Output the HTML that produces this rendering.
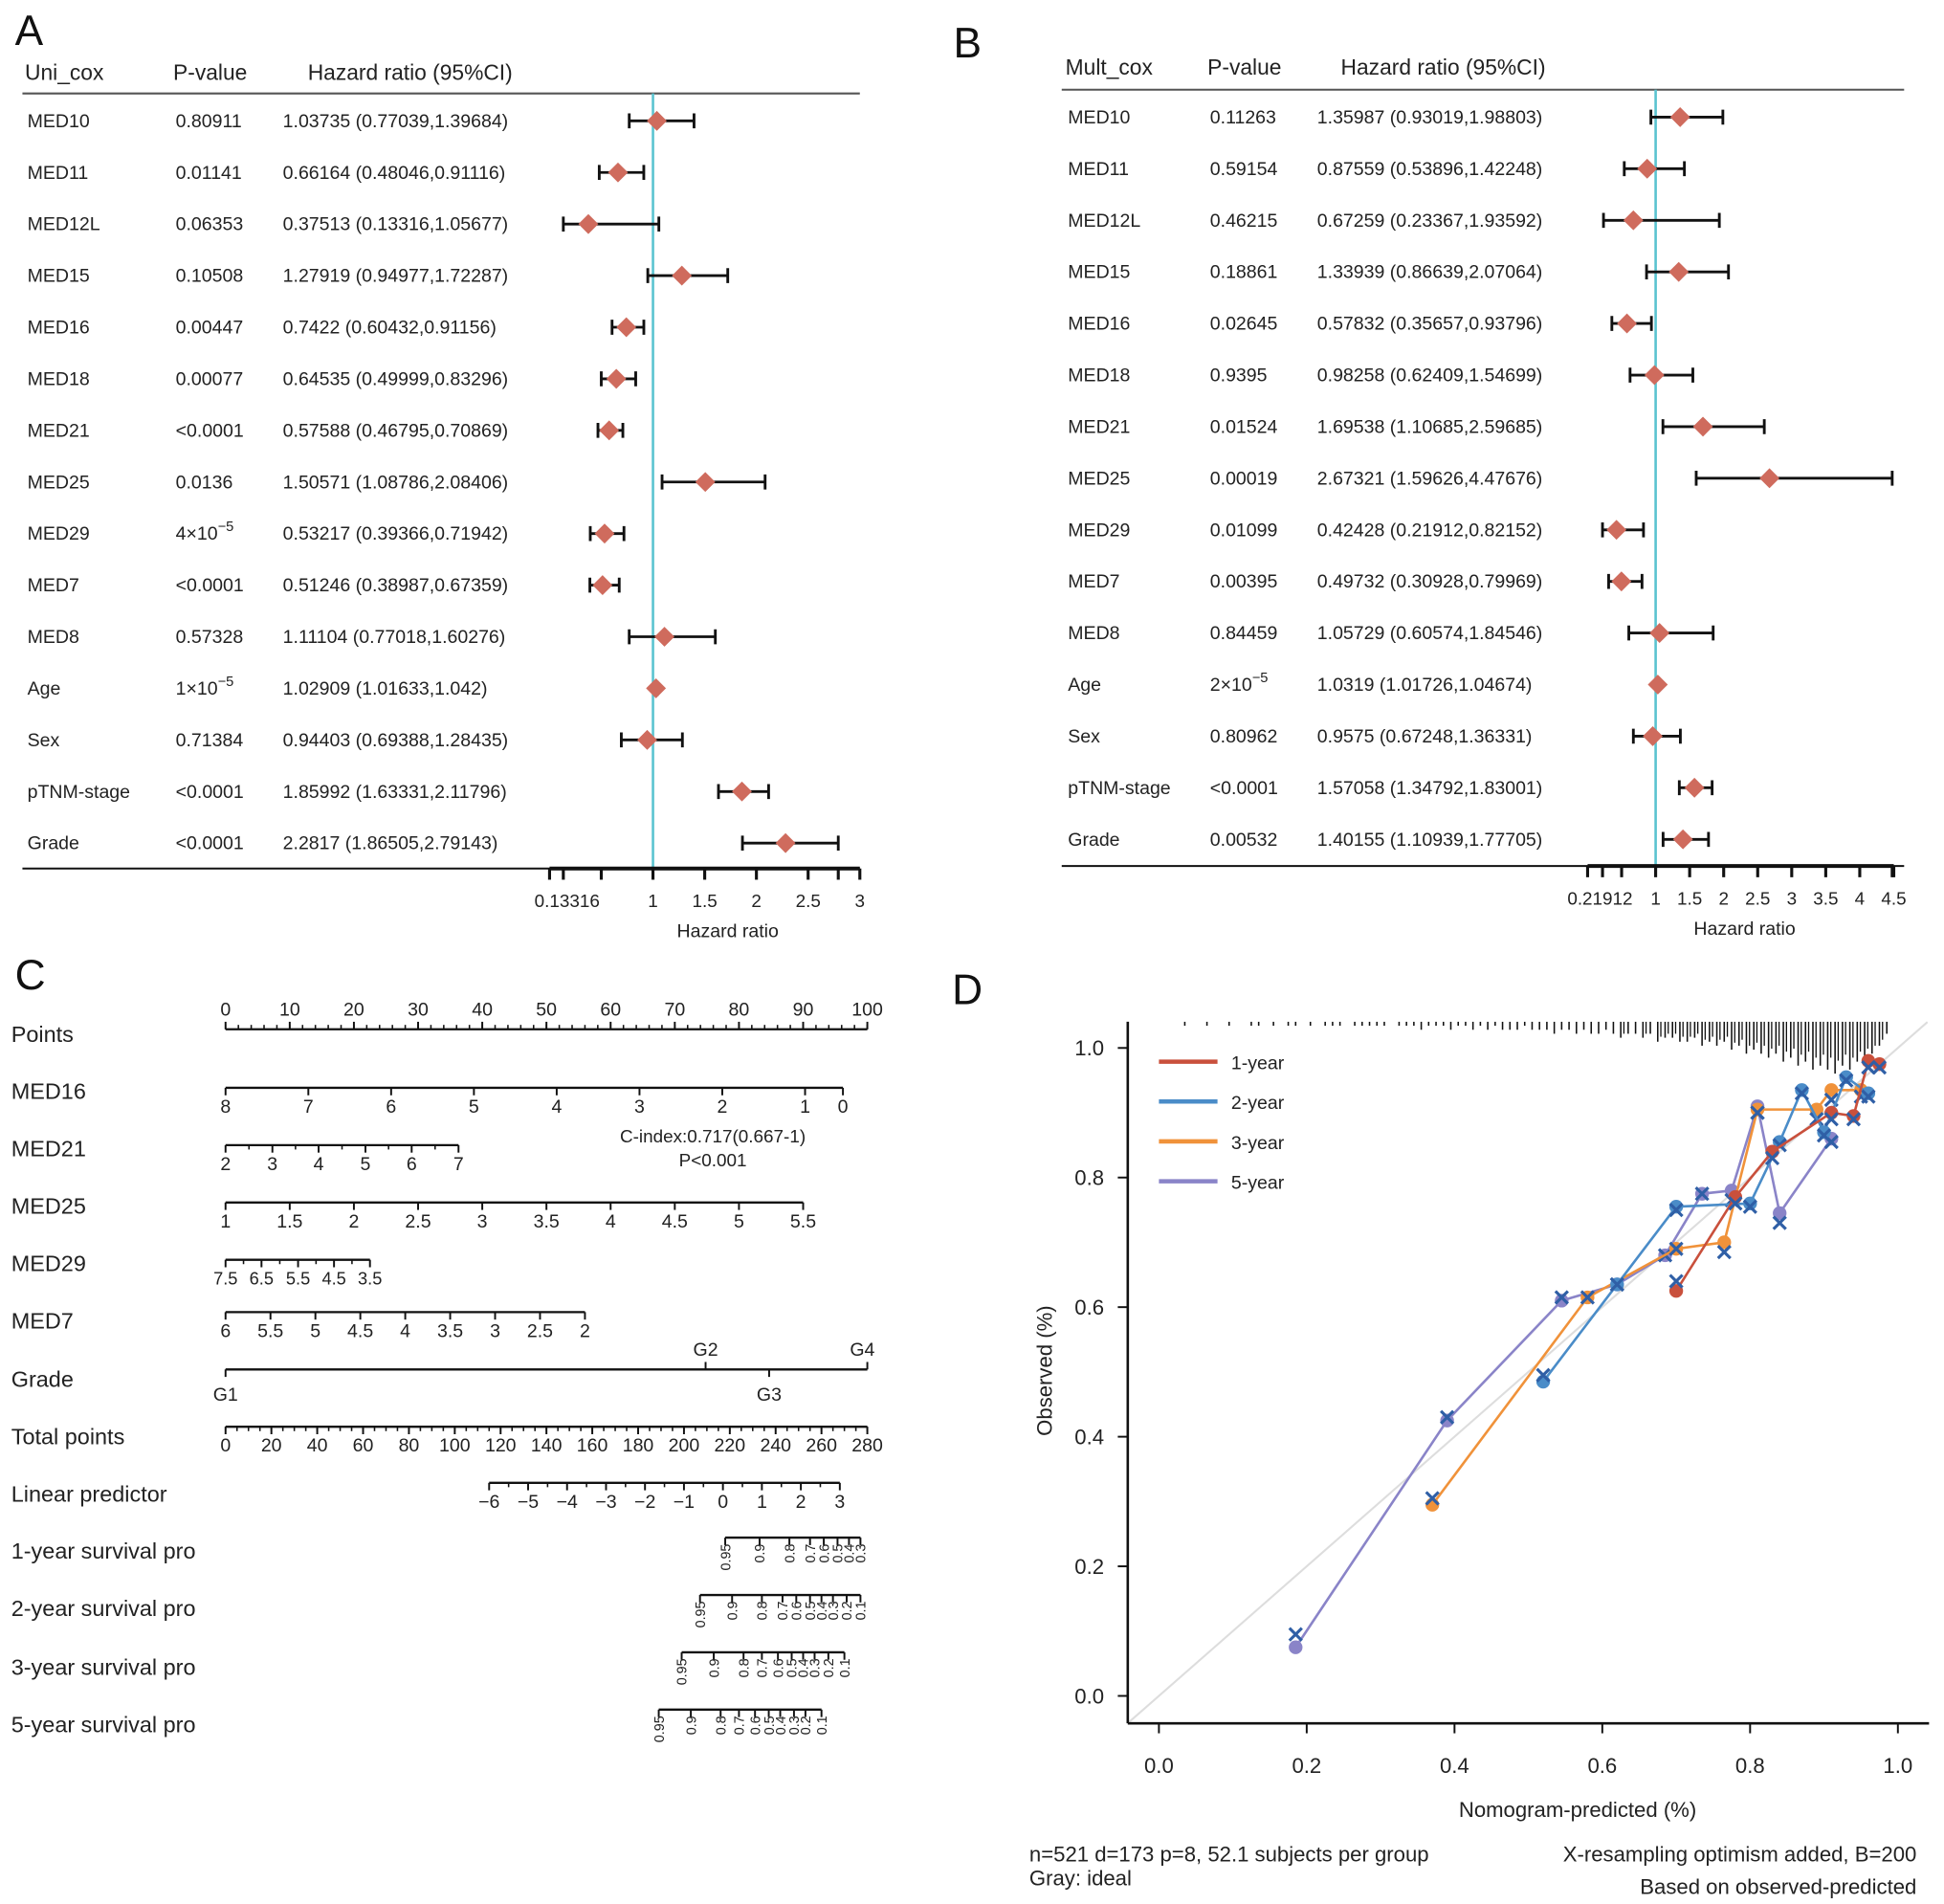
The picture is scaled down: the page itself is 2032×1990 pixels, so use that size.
<!DOCTYPE html>
<html><head><meta charset="utf-8">
<style>
html,body{margin:0;padding:0;background:#fff;}
svg{display:block;font-family:"Liberation Sans",Arial,sans-serif;}
</style></head>
<body>
<svg id="fig" width="2032" height="1990" viewBox="0 0 1560 1528" preserveAspectRatio="none" xmlns="http://www.w3.org/2000/svg">
<g id="panelA"></g>
<g id="panelB"></g>
<g id="panelC"></g>
<g id="panelD"></g>
</svg>
<script>
// ---------- data: panel A ----------
const aNames=["MED10","MED11","MED12L","MED15","MED16","MED18","MED21","MED25","MED29","MED7","MED8","Age","Sex","pTNM-stage","Grade"];
const aPvals=["0.80911","0.01141","0.06353","0.10508","0.00447","0.00077","<0.0001","0.0136","4e-5","<0.0001","0.57328","1e-5","0.71384","<0.0001","<0.0001"];
const aHR=[1.03735,0.66164,0.37513,1.27919,0.7422,0.64535,0.57588,1.50571,0.53217,0.51246,1.11104,1.02909,0.94403,1.85992,2.2817];
const aLo=[0.77039,0.48046,0.13316,0.94977,0.60432,0.49999,0.46795,1.08786,0.39366,0.38987,0.77018,1.01633,0.69388,1.63331,1.86505];
const aHi=[1.39684,0.91116,1.05677,1.72287,0.91156,0.83296,0.70869,2.08406,0.71942,0.67359,1.60276,1.042,1.28435,2.11796,2.79143];
const aTicks=["0.13316","1","1.5","2","2.5","3"];
// ---------- data: panel B ----------
const bNames=["MED10","MED11","MED12L","MED15","MED16","MED18","MED21","MED25","MED29","MED7","MED8","Age","Sex","pTNM-stage","Grade"];
const bPvals=["0.11263","0.59154","0.46215","0.18861","0.02645","0.9395","0.01524","0.00019","0.01099","0.00395","0.84459","2e-5","0.80962","<0.0001","0.00532"];
const bHR=[1.35987,0.87559,0.67259,1.33939,0.57832,0.98258,1.69538,2.67321,0.42428,0.49732,1.05729,1.0319,0.9575,1.57058,1.40155];
const bLo=[0.93019,0.53896,0.23367,0.86639,0.35657,0.62409,1.10685,1.59626,0.21912,0.30928,0.60574,1.01726,0.67248,1.34792,1.10939];
const bHi=[1.98803,1.42248,1.93592,2.07064,0.93796,1.54699,2.59685,4.47676,0.82152,0.79969,1.84546,1.04674,1.36331,1.83001,1.77705];
const bTicks=["0.21912","1","1.5","2","2.5","3","3.5","4","4.5"];
// ---------- data: panel C (nomogram) ----------
const cRowLabels=["Points","MED16","MED21","MED25","MED29","MED7","Grade","Total points","Linear predictor","1-year survival pro","2-year survival pro","3-year survival pro","5-year survival pro"];
const med16Vals=[8,7,6,5,4,3,2,1,0]; const med16Pts=[0,12.9,25.8,38.7,51.6,64.5,77.4,90.3,96.2];
const med21Vals=[2,3,4,5,6,7]; const med21Pts=[0,7.3,14.5,21.8,29.0,36.3];
const med25Vals=[1,1.5,2,2.5,3,3.5,4,4.5,5,5.5]; const med25Pts=[0,10,20,30,40,50,60,70,80,90];
const med29Vals=["7.5","6.5","5.5","4.5","3.5"]; const med29Pts=[0,5.6,11.3,16.9,22.5];
const med7Vals=["6","5.5","5","4.5","4","3.5","3","2.5","2"]; const med7Pts=[0,7,14,21,28,35,42,49,56];
const gradeVals=["G1","G2","G3","G4"]; const gradePts=[0,74.8,84.7,100];
const lpVals=[-6,-5,-4,-3,-2,-1,0,1,2,3]; const lpTotal=[115,132,149,166,183,200,217,234,251,268];
const surv1Lab=["0.95","0.9","0.8","0.7","0.6","0.5","0.4","0.3"]; const surv1Tot=[218,233,246,255,261,267,272,277];
const surv2Lab=["0.95","0.9","0.8","0.7","0.6","0.5","0.4","0.3","0.2","0.1"]; const surv2Tot=[207,221,234,243,249,255,260,265,271,277];
const surv3Lab=["0.95","0.9","0.8","0.7","0.6","0.5","0.4","0.3","0.2","0.1"]; const surv3Tot=[199,213,226,234,241,247,252,257,263,270];
const surv5Lab=["0.95","0.9","0.8","0.7","0.6","0.5","0.4","0.3","0.2","0.1"]; const surv5Tot=[189,203,216,224,231,237,242,248,253,260];
// ---------- data: panel D (calibration) ----------
const dTicks=[0,0.2,0.4,0.6,0.8,1.0];
const yr1Pred=[0.70,0.78,0.83,0.91,0.94,0.96,0.975];
const yr1Obs=[0.625,0.77,0.84,0.90,0.895,0.98,0.975];
const yr1Cor=[0.64,0.76,0.83,0.89,0.89,0.97,0.97];
const yr2Pred=[0.52,0.62,0.70,0.80,0.84,0.87,0.90,0.93,0.96];
const yr2Obs=[0.485,0.635,0.755,0.76,0.855,0.935,0.87,0.955,0.93];
const yr2Cor=[0.495,0.635,0.75,0.755,0.85,0.93,0.865,0.95,0.925];
const yr3Pred=[0.37,0.58,0.70,0.765,0.81,0.89,0.91,0.95];
const yr3Obs=[0.295,0.615,0.69,0.70,0.905,0.905,0.935,0.935];
const yr3Cor=[0.305,0.615,0.69,0.685,0.90,0.89,0.92,0.925];
const yr5Pred=[0.185,0.39,0.545,0.62,0.685,0.735,0.775,0.81,0.84,0.91];
const yr5Obs=[0.075,0.425,0.61,0.635,0.68,0.775,0.78,0.91,0.745,0.86];
const yr5Cor=[0.095,0.43,0.615,0.635,0.68,0.775,0.765,0.90,0.73,0.855];
const rugCounts=[0,0,0,1,0,0,1,0,0,1,0,0,1,1,0,1,0,1,1,0,1,0,1,1,1,0,1,1,1,1,1,0,1,1,1,2,1,1,1,2,1,1,2,1,2,1,2,2,2,1,2,2,2,3,2,2,3,2,3,3,2,3,4,3,3,4,3,5,4,4,5,5,4,6,5,6,5,7,6,8,7,8,9,8,10,9,11,10,12,11,12,13,11,12,10,9,8,6,3,0];
</script>
<script>
const NS="http://www.w3.org/2000/svg";
function mk(parent,tag,attrs,text){const e=document.createElementNS(NS,tag);for(const k in attrs)e.setAttribute(k,attrs[k]);if(text!==undefined)e.textContent=text;parent.appendChild(e);return e;}
function pText(parent,x,y,p,size){
  const t=mk(parent,'text',{x:x,y:y,'font-size':size,fill:'#222'});
  const m=/^(\d)e-(\d)$/.exec(p);
  if(m){t.textContent=m[1]+'\u00d710';const s=mk(t,'tspan',{dy:-7,'font-size':size*0.75});s.textContent='\u2212'+m[2];}
  else t.textContent=p;
  return t;
}
function forest(g,o){
  mk(g,'text',{x:o.letterX,y:o.letterY,'font-size':34,fill:'#111'},o.letter);
  const h=[[o.cName,o.title],[o.cP,'P-value'],[o.cHead,'Hazard ratio (95%CI)']];
  h.forEach((c,i)=>{const t=mk(g,'text',{x:c[0],y:o.headY,'font-size':17.5,fill:'#222'},c[1]);
    });
  mk(g,'line',{x1:o.left,x2:o.right,y1:o.headLine,y2:o.headLine,stroke:'#555','stroke-width':1.6});
  const X=v=>o.x0+o.k*v;
  mk(g,'line',{x1:X(1),x2:X(1),y1:o.headLine,y2:o.axisY,stroke:'#5bc4d0','stroke-width':2});
  o.names.forEach((n,i)=>{
    const y=o.row0+i*o.step;
    const r=mk(g,'g',{});
    mk(r,'text',{x:o.cName+2,y:y+5,'font-size':15,fill:'#222'},n);
    pText(r,o.cP+2,y+5,o.pvals[i],15);
    mk(r,'text',{x:o.cHR,y:y+5,'font-size':15,fill:'#222'},o.hr[i]+' ('+o.lo[i]+','+o.hi[i]+')');
    const x1=X(o.lo[i]),x2=X(o.hi[i]),xc=X(o.hr[i]);
    const ci=mk(r,'path',{d:`M${x1},${y}H${x2}M${x1},${y-6}V${y+6}M${x2},${y-6}V${y+6}`,stroke:'#111','stroke-width':2.2,fill:'none'});
    
    const d=mk(r,'path',{d:`M${xc-8},${y}L${xc},${y-8}L${xc+8},${y}L${xc},${y+8}Z`,fill:'#cf6b5d'});
    
  });
  mk(g,'line',{x1:o.left,x2:o.right,y1:o.axisY,y2:o.axisY,stroke:'#111','stroke-width':1.6});
  mk(g,'line',{x1:X(0),x2:X(o.max),y1:o.axisY,y2:o.axisY,stroke:'#111','stroke-width':3});
  const minLo=Math.min(...o.lo),maxHi=Math.max(...o.hi);
  const tv=[0,minLo,0.5].concat(o.ticks.slice(1).map(Number));
  if(maxHi<o.max)tv.push(maxHi);
  tv.forEach(v=>mk(g,'line',{x1:X(v),x2:X(v),y1:o.axisY,y2:o.axisY+9,stroke:'#111','stroke-width':2.4}));
  o.ticks.forEach((t,i)=>{const v=i===0?minLo:Number(t);
    const e=mk(g,'text',{x:X(v)+(i===0?o.firstShift:0),y:o.axisY+31,'font-size':14.5,fill:'#222','text-anchor':'middle'},t);
    });
  const at=mk(g,'text',{x:o.axTitleX,y:o.axisY+55,'font-size':15,fill:'#222','text-anchor':'middle'},'Hazard ratio');
  
}
forest(document.getElementById('panelA'),{letter:'A',letterX:12,letterY:36,title:'Uni_cox',cName:20,cP:139,cHR:227,cHead:247,headY:64,headLine:75,left:18,right:690,
  x0:441,k:83,max:3,axisY:697,row0:97,step:41.4,names:aNames,pvals:aPvals,hr:aHR,lo:aLo,hi:aHi,ticks:aTicks,firstShift:3,axTitleX:584});
forest(document.getElementById('panelB'),{letter:'B',letterX:765,letterY:46,title:'Mult_cox',cName:855,cP:969,cHR:1057,cHead:1076,headY:60,headLine:72,left:852,right:1528,
  x0:1274,k:54.6,max:4.5,axisY:695,row0:94,step:41.4,names:bNames,pvals:bPvals,hr:bHR,lo:bLo,hi:bHi,ticks:bTicks,firstShift:-2,axTitleX:1400});

(function(){
  const g=document.getElementById('panelC');
  mk(g,'text',{x:12,y:794,'font-size':34,fill:'#111'},'C');
  const P=v=>181+v*5.15, T=v=>181+v*515/280;
  const rowY=[830,876,922,968,1014,1060,1107,1153,1199,1245,1291,1338,1384];
  cRowLabels.forEach((l,i)=>{const t=mk(g,'text',{x:9,y:rowY[i]+6,'font-size':18,fill:'#222'},l);
    });
  function axis(y,xs,labs,opt){
    opt=opt||{};
    const ga=mk(g,'g',{});
    const a=Math.min(...xs),b=Math.max(...xs);
    mk(ga,'line',{x1:a,x2:b,y1:y,y2:y,stroke:'#111','stroke-width':1.8});
    const up=opt.up?-1:1;
    xs.forEach((x,i)=>{mk(ga,'line',{x1:x,x2:x,y1:y,y2:y-up*6,stroke:'#111','stroke-width':1.5});});
    if(opt.minor)opt.minor.forEach(x=>mk(ga,'line',{x1:x,x2:x,y1:y,y2:y-up*3.5,stroke:'#111','stroke-width':1.2}));
    labs.forEach((l,i)=>{
      if(opt.rot){mk(ga,'text',{x:0,y:0,'font-size':11,fill:'#222','text-anchor':'end',transform:`translate(${xs[i]+4},${y+5}) rotate(-90)`},l);}
      else{const yy=opt.labY?opt.labY[i]:(opt.above? y-10 : y+20);
        mk(ga,'text',{x:xs[i],y:yy,'font-size':opt.fs||15,fill:'#222','text-anchor':'middle'},l);}
    });
  }
  const pts=[];for(let v=0;v<=100;v+=10)pts.push(v);
  const ptsMinor=[];for(let v=0;v<=100;v+=2)ptsMinor.push(P(v));
  axis(826,pts.map(P),pts.map(String),{above:true,up:false,minor:ptsMinor,name:'points-scale',labY:pts.map(()=>815)});
  axis(873,med16Pts.map(P),med16Vals.map(String),{up:true,name:'med16-scale'});
  const m21minor=med21Pts.slice(0,-1).map((p,i)=>P((p+med21Pts[i+1])/2));
  axis(919,med21Pts.map(P),med21Vals.map(String),{up:true,minor:m21minor,name:'med21-scale'});
  axis(965,med25Pts.map(P),med25Vals.map(String),{up:true,name:'med25-scale'});
  const m29minor=med29Pts.slice(0,-1).map((p,i)=>P((p+med29Pts[i+1])/2));
  axis(1011,med29Pts.map(P),med29Vals,{up:true,minor:m29minor,name:'med29-scale',fs:14});
  axis(1053,med7Pts.map(P),med7Vals,{up:true,name:'med7-scale'});
  (function(){const y=1099;const ga=mk(g,'g',{});
    mk(ga,'line',{x1:P(0),x2:P(100),y1:y,y2:y,stroke:'#111','stroke-width':1.8});
    gradePts.forEach((p,i)=>{const up=(i%2===1);mk(ga,'line',{x1:P(p),x2:P(p),y1:y,y2:up?y-6:y+6,stroke:'#111','stroke-width':1.5});
      mk(ga,'text',{x:P(p)-(i===3?4:0),y:up?y-11:y+25,'font-size':15,fill:'#222','text-anchor':'middle'},gradeVals[i]);});})();
  const tot=[];for(let v=0;v<=280;v+=20)tot.push(v);
  const totMinor=[];for(let v=0;v<=280;v+=5)totMinor.push(T(v));
  axis(1145,tot.map(T),tot.map(String),{up:true,minor:totMinor,name:'total-points-scale'});
  const lpMinor=lpVals.slice(0,-1).map((v,i)=>T((lpTotal[i]+lpTotal[i+1])/2));
  axis(1190,lpTotal.map(T),lpVals.map(v=>v<0?'\u2212'+(-v):String(v)),{up:true,minor:lpMinor,name:'linear-predictor-scale'});
  axis(1234,surv1Tot.map(T),surv1Lab,{up:true,rot:true,name:'1-year-survival-scale'});
  axis(1280,surv2Tot.map(T),surv2Lab,{up:true,rot:true,name:'2-year-survival-scale'});
  axis(1326,surv3Tot.map(T),surv3Lab,{up:true,rot:true,name:'3-year-survival-scale'});
  axis(1372,surv5Tot.map(T),surv5Lab,{up:true,rot:true,name:'5-year-survival-scale'});
  const ci=mk(g,'text',{x:572,y:917,'font-size':14.5,fill:'#222','text-anchor':'middle'},'C-index:0.717(0.667-1)');
  
  mk(g,'text',{x:572,y:936,'font-size':14.5,fill:'#222','text-anchor':'middle'},'P<0.001');
})();

(function(){
  const g=document.getElementById('panelD');
  mk(g,'text',{x:764,y:806,'font-size':34,fill:'#111'},'D');
  const X=v=>930+v*593, Y=v=>1361-v*520;
  mk(g,'line',{x1:X(-0.04),y1:Y(-0.04),x2:X(1.04),y2:Y(1.04),stroke:'#ddd','stroke-width':1.6});
  const rug=mk(g,'g',{});
  rugCounts.forEach((c,i)=>{if(c>0){const x=X((i+0.5)/100);
    mk(rug,'line',{x1:x,x2:x,y1:820,y2:820+c*3.2,stroke:'#111','stroke-width':1.2});
    if(c>3)mk(rug,'line',{x1:x+2.5,x2:x+2.5,y1:820,y2:820+c*2.4,stroke:'#111','stroke-width':1});}});
  mk(g,'line',{x1:905,x2:905,y1:820,y2:1383,stroke:'#111','stroke-width':2});
  mk(g,'line',{x1:905,x2:1548,y1:1383,y2:1383,stroke:'#111','stroke-width':2});
  dTicks.forEach(t=>{
    mk(g,'line',{x1:X(t),x2:X(t),y1:1383,y2:1391,stroke:'#111','stroke-width':1.5});
    const a=mk(g,'text',{x:X(t),y:1423,'font-size':17,fill:'#222','text-anchor':'middle'},t.toFixed(1));
    
    mk(g,'line',{x1:897,x2:905,y1:Y(t),y2:Y(t),stroke:'#111','stroke-width':1.5});
    const b=mk(g,'text',{x:886,y:Y(t)+6,'font-size':17,fill:'#222','text-anchor':'end'},t.toFixed(1));
    
  });
  const xt=mk(g,'text',{x:1266,y:1458,'font-size':17,fill:'#222','text-anchor':'middle'},'Nomogram-predicted (%)');
  
  const yt=mk(g,'text',{x:0,y:0,'font-size':17,fill:'#222','text-anchor':'middle',transform:'translate(844,1100) rotate(-90)'},'Observed (%)');
  
  const series=[[yr5Pred,yr5Obs,yr5Cor,'#8a84c8','5-year'],[yr3Pred,yr3Obs,yr3Cor,'#f0923a','3-year'],[yr2Pred,yr2Obs,yr2Cor,'#4a8cc8','2-year'],[yr1Pred,yr1Obs,yr1Cor,'#c9503c','1-year']];
  series.forEach(s=>{
    const sg=mk(g,'g',{});
    const d=s[0].map((p,i)=>(i?'L':'M')+X(p)+','+Y(s[1][i])).join('');
    mk(sg,'path',{d:d,fill:'none',stroke:s[3],'stroke-width':2});
    s[0].forEach((p,i)=>{const c=mk(sg,'circle',{cx:X(p),cy:Y(s[1][i]),r:5.5,fill:s[3]});
      });
    s[0].forEach((p,i)=>{const x=X(p),y=Y(s[2][i]);
      const m=mk(sg,'path',{d:`M${x-5},${y-5}L${x+5},${y+5}M${x+5},${y-5}L${x-5},${y+5}`,stroke:'#2f5fa6','stroke-width':2.4});
      });
  });
  const legCol=['#c9503c','#4a8cc8','#f0923a','#8a84c8'];const legLab=['1-year','2-year','3-year','5-year'];
  legLab.forEach((l,i)=>{const y=852+i*32;
    const e=mk(g,'g',{});
    mk(e,'line',{x1:930,x2:977,y1:y,y2:y,stroke:legCol[i],'stroke-width':3.5});
    mk(e,'text',{x:988,y:y+6,'font-size':15,fill:'#222'},l);});
  const notes=[[826,1494,'start','n=521 d=173 p=8, 52.1 subjects per group'],[826,1513,'start','Gray: ideal'],[1538,1494,'end','X-resampling optimism added, B=200'],[1538,1520,'end','Based on observed-predicted']];
  notes.forEach(n=>{const t=mk(g,'text',{x:n[0],y:n[1],'font-size':17,fill:'#222','text-anchor':n[2]},n[3]);
    });
})();
</script>
</body></html>
